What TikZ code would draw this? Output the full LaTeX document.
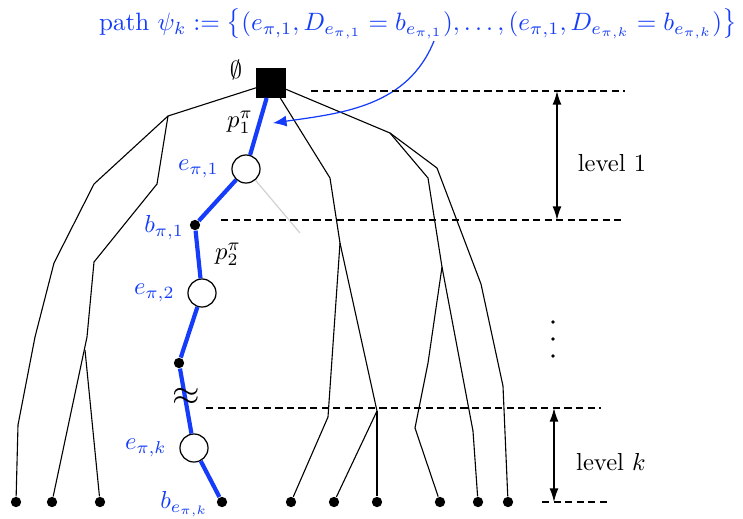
\documentclass[tikz,border=0pt]{standalone}
\usepackage{amsmath,amssymb}
\usetikzlibrary{arrows.meta,positioning}
\definecolor{pathblue}{RGB}{20,60,250}

\begin{document}
\begin{tikzpicture}[x=0.4065pt, y=-0.4065pt,
    edge/.style={line width=0.45pt},
    bpath/.style={draw=pathblue, line width=1.7pt},
    leaf/.style={circle, fill=black, inner sep=0pt, minimum size=4.2pt},
    chance/.style={circle, draw, fill=white, inner sep=0pt, minimum size=11.4pt, line width=0.5pt},
    lvl/.style={line width=0.5pt, dash pattern=on 2.9pt off 1.8pt},
    span/.style={{Latex[length=5.5pt,width=3.6pt]}-{Latex[length=5.5pt,width=3.6pt]}, line width=0.6pt},
    lbl/.style={text=pathblue, inner sep=1pt}]
    \useasboundingbox (0,0) rectangle (743,518);

    % title formula
    \node[text=pathblue, scale=1.02, inner sep=1pt] (psi) at (418,24)
      {path $\psi_k := \big\{(e_{\pi,1}, D_{e_{\pi,1}} = b_{e_{\pi,1}}),\dots,(e_{\pi,1}, D_{e_{\pi,k}} = b_{e_{\pi,k}})\big\}$};

    % root and the path nodes
    \node[fill=black, minimum size=11.8pt, inner sep=0pt] (root) at (271,83) {};
    \node[chance] (e1) at (246,169) {};
    \node[leaf] (b1) at (195,225) {};
    \node[chance] (e2) at (202,293) {};
    \node[leaf] (m) at (179,363) {};
    \node[chance] (ek) at (194,448) {};
    \node[leaf] (bk) at (222,502) {};

    % leaves
    \foreach \x/\n in {16/1, 52/2, 100/3, 291/4, 334/5, 377/6, 440/7, 478/8, 508/9}
      \node[leaf] (l\n) at (\x,502) {};

    % inner points of the tree
    \coordinate (L0) at (168,116);
    \coordinate (A1) at (94,184);
    \coordinate (A2) at (54,263);
    \coordinate (A3) at (35,337);
    \coordinate (A4) at (18,425);
    \coordinate (B1) at (157,184);
    \coordinate (B2) at (94,262);
    \coordinate (B3) at (87,337);
    \coordinate (B4) at (85,350);
    \coordinate (R1) at (330,178);
    \coordinate (R2) at (340,243);
    \coordinate (R3) at (328,417);
    \coordinate (R4) at (377,411);
    \coordinate (Q0) at (390,133);
    \coordinate (C1) at (428,178);
    \coordinate (C2) at (442,267);
    \coordinate (C3) at (428,363);
    \coordinate (C4) at (415,428);
    \coordinate (C5) at (473,431);
    \coordinate (D1) at (437,168);
    \coordinate (D2) at (481,284);
    \coordinate (D3) at (503,386);

    % tree edges
    \draw[edge] (root) -- (L0) -- (A1) -- (A2) -- (A3) -- (A4) -- (l1);
    \draw[edge] (L0) -- (B1) -- (B2) -- (B3) -- (l2);
    \draw[edge] (B4) -- (l3);
    \draw[edge] (root) -- (R1) -- (R2) -- (R3) -- (l4);
    \draw[edge] (R2) -- (R4) -- (l5);
    \draw[edge] (R4) -- (l6);
    \draw[edge] (root) -- (Q0) -- (C1) -- (C2) -- (C3) -- (C4) -- (l7);
    \draw[edge] (C2) -- (C5) -- (l8);
    \draw[edge] (Q0) -- (D1) -- (D2) -- (D3) -- (l9);
    \coordinate (gr) at (300,233);
    \draw[gray!35, line width=0.5pt] (e1) -- (gr);

    % the path psi_k
    \draw[bpath] (root) -- (e1) -- (b1) -- (e2) -- (m) -- (ek) -- (bk);
    \node (approx) at (186,397) {\Large$\approx$};

    % labels
    \node (empty) at (236,70) {$\emptyset$};
    \node[inner sep=1pt] (p1) at (240,122) {$p_1^\pi$};
    \node[inner sep=1pt] (p2) at (228,254) {$p_2^\pi$};
    \node[lbl, left=4pt of e1] (le1) {$e_{\pi,1}$};
    \node[lbl, left=1pt of b1, yshift=-1pt] (lb1) {$b_{\pi,1}$};
    \node[lbl, left=4pt of e2] (le2) {$e_{\pi,2}$};
    \node[lbl, left=4pt of ek] (lek) {$e_{\pi,k}$};
    \node[lbl, left=2pt of bk, yshift=-1pt] (lbk) {$b_{e_{\pi,k}}$};

    % arrow from the formula
    \coordinate (src) at (434,41);
    \coordinate (tgt) at (273,123);
    \draw[pathblue, line width=0.5pt, -{Latex[length=5.5pt,width=4.5pt]}] (src) to[out=-112, in=8] (tgt);

    % levels
    \draw[lvl] (311,91) -- (625,91);
    \draw[lvl] (221,220) -- (625,220);
    \draw[lvl] (206,408) -- (601,408);
    \draw[lvl] (542,502) -- (610,502);
    \coordinate (t1) at (557,91);
    \coordinate (u1) at (557,220);
    \coordinate (tk) at (554,408);
    \coordinate (uk) at (554,502);
    \draw[span] (t1) -- (u1);
    \draw[span] (tk) -- (uk);
    \node (lv1) at (612,163) {level 1};
    \node (lvk) at (611,462) {level $k$};
    \foreach \y in {322,339,356}
      \fill (553,\y) circle (0.8pt);
  \end{tikzpicture}
\end{document}
